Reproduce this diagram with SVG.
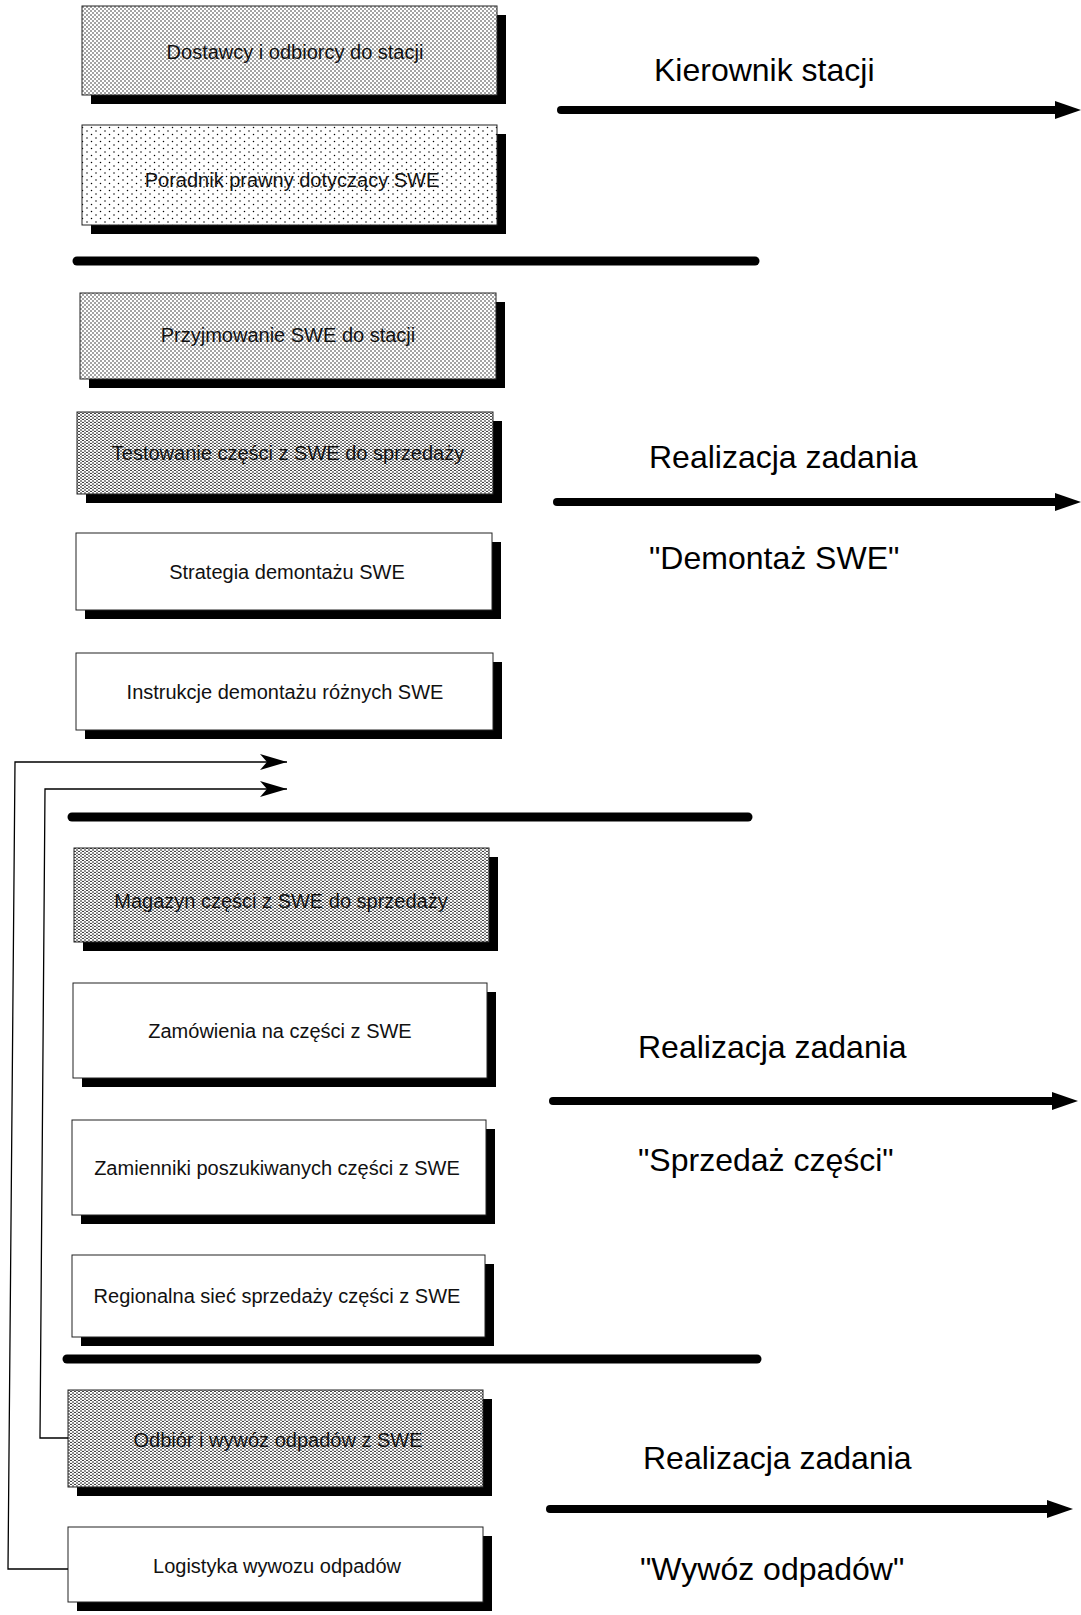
<svg xmlns="http://www.w3.org/2000/svg" width="1081" height="1615" viewBox="0 0 1081 1615">
<style>
  .box { stroke: #222; stroke-width: 1; }
  .plain { fill: #fff; }
  .dots { fill: url(#dots); }
  .dotsDark { fill: url(#dotsDark); }
  .dotsSparse { fill: url(#dotsSparse); }
  .shadow { fill: #000; }
  .lbl { font-family: "Liberation Sans", Arial, sans-serif; font-size: 20px; fill: #111; text-anchor: middle; }
  .big { font-family: "Liberation Sans", Arial, sans-serif; font-size: 32px; fill: #000; }
  .sep { stroke: #000; stroke-width: 9; stroke-linecap: round; fill: none; }
  .thick { stroke: #000; stroke-width: 8; stroke-linecap: round; fill: none; }
  .conn { stroke: #000; stroke-width: 1.3; fill: none; }
</style>
<defs>
  <pattern id="dots" width="4" height="4" patternUnits="userSpaceOnUse">
    <rect width="4" height="4" fill="#fff"/>
    <circle cx="1" cy="1" r="0.7" fill="#000"/>
    <circle cx="3" cy="3" r="0.7" fill="#000"/>
  </pattern>
  <pattern id="dotsDark" width="4" height="3" patternUnits="userSpaceOnUse">
    <rect width="4" height="3" fill="#fff"/>
    <circle cx="1" cy="1" r="0.8" fill="#000"/>
    <circle cx="3" cy="2.5" r="0.8" fill="#000"/>
  </pattern>
  <pattern id="dotsSparse" width="9" height="7" patternUnits="userSpaceOnUse">
    <rect width="9" height="7" fill="#fff"/>
    <circle cx="1.5" cy="1.5" r="0.75" fill="#000"/>
    <circle cx="6" cy="5" r="0.75" fill="#000"/>
  </pattern>
  <marker id="openHead" markerWidth="30" markerHeight="18" refX="28" refY="9" orient="auto" markerUnits="userSpaceOnUse">
    <path d="M28,9 L1,1 L8,9 L1,17 Z" fill="#000"/>
  </marker>
  <marker id="bigHead" markerWidth="28" markerHeight="22" refX="2" refY="11" orient="auto" markerUnits="userSpaceOnUse">
    <path d="M26,11 L0,2 L0,20 Z" fill="#000"/>
  </marker>
</defs>
<rect width="1081" height="1615" fill="#fff"/>

<!-- Nodes -->
<g id="n1">
  <rect class="shadow" x="91" y="15" width="415" height="89"/>
  <rect class="box dots" x="82" y="6" width="415" height="89"/>
  <text class="lbl" x="295" y="59">Dostawcy i odbiorcy do stacji</text>
</g>
<g id="n2">
  <rect class="shadow" x="91" y="134" width="415" height="100"/>
  <rect class="box dotsSparse" x="82" y="125" width="415" height="100"/>
  <text class="lbl" x="292" y="187">Poradnik prawny dotyczący SWE</text>
</g>
<g id="n3">
  <rect class="shadow" x="89" y="302" width="416" height="86"/>
  <rect class="box dots" x="80" y="293" width="416" height="86"/>
  <text class="lbl" x="288" y="342">Przyjmowanie SWE do stacji</text>
</g>
<g id="n4">
  <rect class="shadow" x="86" y="421" width="416" height="82"/>
  <rect class="box dotsDark" x="77" y="412" width="416" height="82"/>
  <text class="lbl" x="288" y="460">Testowanie części z SWE do sprzedaży</text>
</g>
<g id="n5">
  <rect class="shadow" x="85" y="542" width="416" height="77"/>
  <rect class="box plain" x="76" y="533" width="416" height="77"/>
  <text class="lbl" x="287" y="579">Strategia demontażu SWE</text>
</g>
<g id="n6">
  <rect class="shadow" x="85" y="662" width="417" height="77"/>
  <rect class="box plain" x="76" y="653" width="417" height="77"/>
  <text class="lbl" x="285" y="699">Instrukcje demontażu różnych SWE</text>
</g>
<g id="n7">
  <rect class="shadow" x="83" y="857" width="415" height="94"/>
  <rect class="box dotsDark" x="74" y="848" width="415" height="94"/>
  <text class="lbl" x="281" y="908">Magazyn części z SWE do sprzedaży</text>
</g>
<g id="n8">
  <rect class="shadow" x="82" y="992" width="414" height="95"/>
  <rect class="box plain" x="73" y="983" width="414" height="95"/>
  <text class="lbl" x="280" y="1038">Zamówienia na części z SWE</text>
</g>
<g id="n9">
  <rect class="shadow" x="81" y="1129" width="414" height="95"/>
  <rect class="box plain" x="72" y="1120" width="414" height="95"/>
  <text class="lbl" x="277" y="1175">Zamienniki poszukiwanych części z SWE</text>
</g>
<g id="n10">
  <rect class="shadow" x="81" y="1264" width="413" height="82"/>
  <rect class="box plain" x="72" y="1255" width="413" height="82"/>
  <text class="lbl" x="277" y="1303">Regionalna sieć sprzedaży części z SWE</text>
</g>
<g id="n11">
  <rect class="shadow" x="77" y="1399" width="415" height="97"/>
  <rect class="box dotsDark" x="68" y="1390" width="415" height="97"/>
  <text class="lbl" x="278" y="1447">Odbiór i wywóz odpadów z SWE</text>
</g>
<g id="n12">
  <rect class="shadow" x="77" y="1536" width="415" height="75"/>
  <rect class="box plain" x="68" y="1527" width="415" height="75"/>
  <text class="lbl" x="277" y="1573">Logistyka wywozu odpadów</text>
</g>

<!-- Separators -->
<g id="separators">
  <line class="sep" x1="77" y1="261" x2="755" y2="261"/>
  <line class="sep" x1="72" y1="817" x2="748" y2="817"/>
  <line class="sep" x1="67" y1="1359" x2="757" y2="1359"/>
</g>

<!-- Lane labels and arrows -->
<g id="lane-kierownik">
  <text class="big" x="654" y="81">Kierownik stacji</text>
  <line class="thick" x1="561" y1="110" x2="1057" y2="110" marker-end="url(#bigHead)"/>
</g>
<g id="lane-demontaz">
  <text class="big" x="649" y="468">Realizacja zadania</text>
  <line class="thick" x1="557" y1="502" x2="1057" y2="502" marker-end="url(#bigHead)"/>
  <text class="big" x="649" y="569">"Demontaż SWE"</text>
</g>
<g id="lane-sprzedaz">
  <text class="big" x="638" y="1058">Realizacja zadania</text>
  <line class="thick" x1="553" y1="1101" x2="1054" y2="1101" marker-end="url(#bigHead)"/>
  <text class="big" x="638" y="1171">"Sprzedaż części"</text>
</g>
<g id="lane-wywoz">
  <text class="big" x="643" y="1469">Realizacja zadania</text>
  <line class="thick" x1="550" y1="1509" x2="1049" y2="1509" marker-end="url(#bigHead)"/>
  <text class="big" x="640" y="1580">"Wywóz odpadów"</text>
</g>

<!-- Connectors -->
<g id="connectors">
  <polyline class="conn" points="68,1569 8,1569 15,762 287,762" marker-end="url(#openHead)"/>
  <polyline class="conn" points="68,1438 40,1438 45,789 287,789" marker-end="url(#openHead)"/>
</g>
</svg>
